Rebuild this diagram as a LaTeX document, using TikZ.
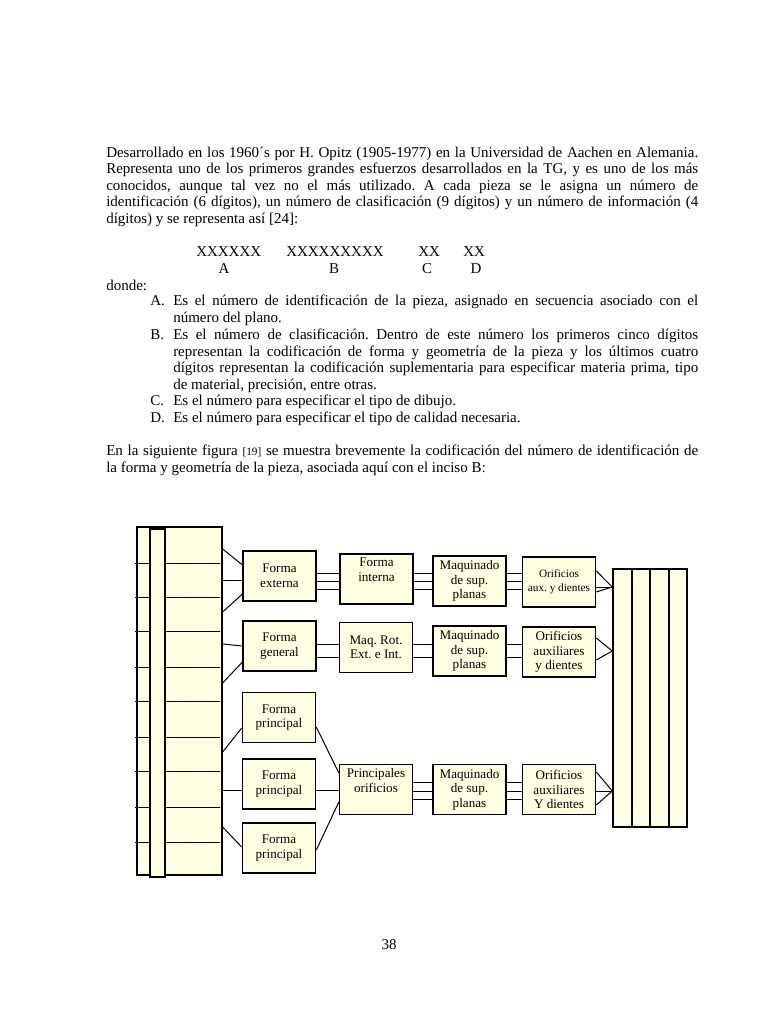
\documentclass[tikz,border=0pt]{standalone}
\usepackage{fontspec}
\setmainfont{Liberation Serif}
\usetikzlibrary{calc}
\frenchspacing

\definecolor{crema}{RGB}{255,255,226}

\tikzset{
  caja/.style={draw, fill=crema, line width=0.9pt, minimum width=58.4pt, minimum height=40pt,
    inner sep=1pt, align=center, font=\fontsize{10.5pt}{11.6pt}\selectfont},
  cajag/.style={caja, line width=1.3pt},
  enlace/.style={line width=0.8pt},
  parrafo/.style={anchor=north west, inner sep=0pt, align=justify,
    font=\fontsize{12pt}{13.2pt}\selectfont},
  linea/.style={anchor=base west, inner sep=0pt, font=\fontsize{12pt}{13.2pt}\selectfont},
  letra/.style={anchor=base, inner sep=0pt, font=\fontsize{12pt}{13.2pt}\selectfont},
  arriba/.style={anchor=north, align=center, inner sep=3.5pt, font=\fontsize{10.5pt}{11.6pt}\selectfont},
}

\begin{document}
\begin{tikzpicture}[x=0.8pt, y=-0.8pt]
    \fill[white] (0,0) rectangle (768,1024);
    \useasboundingbox (0,0) rectangle (768,1024);

    % texto de la pagina
    \node[parrafo, text width=473.6pt] (intro) at (106,146.7) {Desarrollado en los 1960´s por H. Opitz (1905-1977) en la Universidad de Aachen en Alemania.\linebreak
      Representa uno de los primeros grandes esfuerzos desarrollados en la TG, y es uno de los más\linebreak
      conocidos, aunque tal vez no el más utilizado. A cada pieza se le asigna un número de\linebreak
      identificación (6 dígitos), un número de clasificación (9 dígitos) y un número de información (4\linebreak
      dígitos) y se representa así [24]:};
    \node[linea] (xa) at (196,257) {XXXXXX};
    \node[linea] (xb) at (286,257) {XXXXXXXXX};
    \node[linea] (xc) at (418,257) {XX};
    \node[linea] (xd) at (463,257) {XX};
    \node[letra] (la) at (224,273) {A};
    \node[letra] (lb-t) at (334,273) {B};
    \node[letra] (lc) at (427,273) {C};
    \node[letra] (ld) at (476,273) {D};
    \node[linea] (donde) at (106,290) {donde:};

    \node[linea] (ia) at (150,305) {A.};
    \node[parrafo, text width=420pt] (ta) at (173,294.7) {Es el número de identificación de la pieza, asignado en secuencia asociado con el\linebreak número del plano.};
    \node[linea] (ib) at (150,339) {B.};
    \node[parrafo, text width=420pt] (tb) at (173,328.7) {Es el número de clasificación. Dentro de este número los primeros cinco dígitos\linebreak
      representan la codificación de forma y geometría de la pieza y los últimos cuatro\linebreak
      dígitos representan la codificación suplementaria para especificar materia prima, tipo\linebreak
      de material, precisión, entre otras.};
    \node[linea] (ic) at (150,405) {C.};
    \node[linea] (tc) at (173,405) {Es el número para especificar el tipo de dibujo.};
    \node[linea] (id) at (150,422) {D.};
    \node[linea] (td) at (173,422) {Es el número para especificar el tipo de calidad necesaria.};

    \node[parrafo, text width=473.6pt] (fig) at (106,444.7) {En la siguiente figura {\fontsize{9pt}{10pt}\selectfont[19]} se muestra brevemente la codificación del número de identificación de\linebreak
      la forma y geometría de la pieza, asociada aquí con el inciso B:};

    \node[letra] (pag) at (389,949) {38};

    % bloque izquierdo
    \node[draw, fill=crema, line width=1pt, minimum width=68pt, minimum height=278.4pt, inner sep=0pt] (izq) at (179.5,701) {};
    \draw[fill=crema, line width=1pt] (150,529) rectangle (165,877);
    \foreach \y in {563,597,631,667,701,737,771,807,842} {
        \draw[enlace] (135,\y) -- (150,\y);
        \draw[enlace] (165,\y) -- (220,\y);
    }

    % bloque derecho
    \node[draw, fill=crema, line width=1.2pt, minimum width=59.2pt, minimum height=206.4pt, inner sep=0pt] (der) at (650,698) {};
    \foreach \x in {632,650,669}
        \draw[line width=1.2pt] (\x,569) -- (\x,827);

    % cajas
    \node[caja] (ext) at (279.5,576) {Forma\\externa};
    \node[caja, label={[arriba]north:Forma\\interna}] (int) at (376.5,579) {};
    \node[cajag] (mx1) at (469.5,581) {Maquinado\\de sup.\\planas};
    \node[cajag, font=\fontsize{9pt}{11pt}\selectfont] (or1) at (559,582) {Orificios\\aux. y dientes};

    \node[caja] (gen) at (279.5,646) {Forma\\general};
    \node[caja] (rot) at (376,647.5) {Maq. Rot.\\Ext. e Int.};
    \node[cajag] (mx2) at (469.5,651) {Maquinado\\de sup.\\planas};
    \node[cajag] (or2) at (559,652) {Orificios\\auxiliares\\y dientes};

    \node[cajag] (pr1) at (279,717.5) {Forma\\principal};
    \node[cajag] (pr2) at (279,784) {Forma\\principal};
    \node[cajag] (pr3) at (279,848) {Forma\\principal};
    \node[caja, line width=1.1pt, label={[arriba]north:Principales\\orificios}] (po) at (376,789.5) {};
    \node[cajag] (mx3) at (469.5,789.5) {Maquinado\\de sup.\\planas};
    \node[cajag] (or3) at (559,789.5) {Orificios\\auxiliares\\Y dientes};

    % enlaces desde el bloque izquierdo
    \draw[enlace] (izq.east |- 0,549) -- (ext.west |- 0,565);
    \draw[enlace] (izq.east |- 0,580) -- (ext.west |- 0,580);
    \draw[enlace] (izq.east |- 0,612) -- (ext.west |- 0,594);
    \draw[enlace] (izq.east |- 0,644) -- (gen.west |- 0,646);
    \draw[enlace] (izq.east |- 0,683) -- (gen.west |- 0,662);
    \draw[enlace] (izq.east |- 0,752) -- (pr1.west |- 0,728);
    \draw[enlace] (izq.east |- 0,790) -- (pr2.west |- 0,790);
    \draw[enlace] (izq.east |- 0,827) -- (pr3.west |- 0,847);

    % enlaces entre cajas
    \foreach \y in {573,581,589} {
        \draw[enlace] (ext.east |- 0,\y) -- (int.west |- 0,\y);
        \draw[enlace] (int.east |- 0,\y) -- (mx1.west |- 0,\y);
        \draw[enlace] (mx1.east |- 0,\y) -- (or1.west |- 0,\y);
    }
    \foreach \y in {644,657} {
        \draw[enlace] (gen.east |- 0,\y) -- (rot.west |- 0,\y);
        \draw[enlace] (rot.east |- 0,\y) -- (mx2.west |- 0,\y);
        \draw[enlace] (mx2.east |- 0,\y) -- (or2.west |- 0,\y);
    }
    \foreach \y in {782,791,799} {
        \draw[enlace] (po.east |- 0,\y) -- (mx3.west |- 0,\y);
        \draw[enlace] (mx3.east |- 0,\y) -- (or3.west |- 0,\y);
    }
    \draw[enlace] (pr1.east |- 0,727) -- (po.west |- 0,773);
    \draw[enlace] (pr2.east |- 0,790) -- (po.west |- 0,790);
    \draw[enlace] (pr3.east |- 0,850) -- (po.west |- 0,802);

    % enlaces hacia el bloque derecho
    \foreach \y in {571,587,592}
        \draw[enlace] (or1.east |- 0,\y) -- (der.west |- 0,587);
    \foreach \y in {638,660}
        \draw[enlace] (or2.east |- 0,\y) -- (der.west |- 0,651);
    \foreach \y in {772,791,805}
        \draw[enlace] (or3.east |- 0,\y) -- (der.west |- 0,791);
\end{tikzpicture}
\end{document}
